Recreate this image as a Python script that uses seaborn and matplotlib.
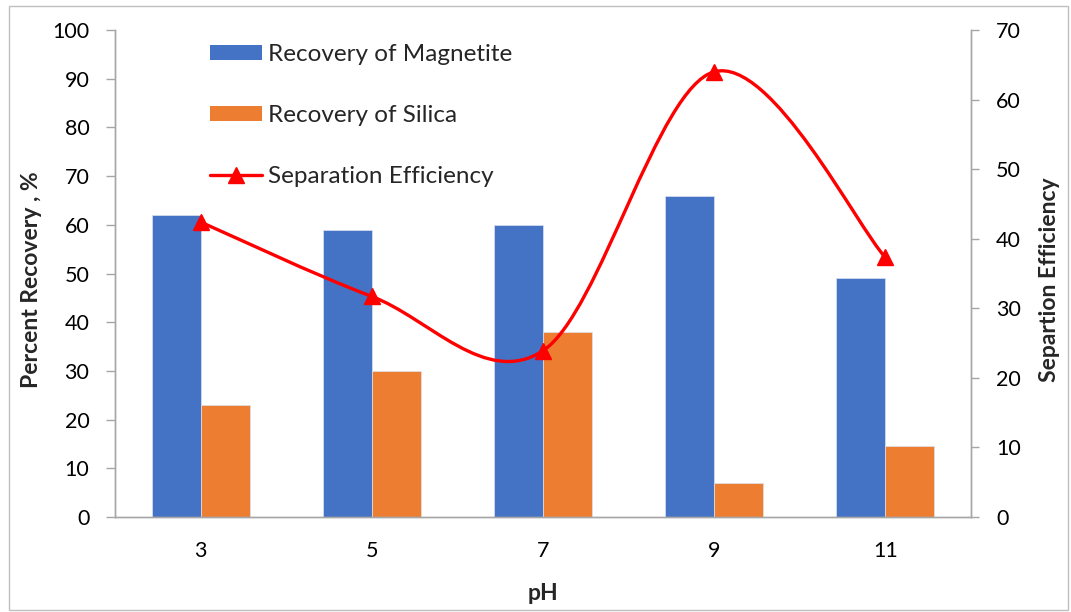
import numpy as np
import pandas as pd
import matplotlib
matplotlib.use('Agg')
import matplotlib.pyplot as plt
import seaborn as sns
from matplotlib.patches import Rectangle, PathPatch
from matplotlib.path import Path
from matplotlib.lines import Line2D

# ---- data ----
ph = ['3', '5', '7', '9', '11']
magnetite = [62, 59, 60, 66, 49]
silica = [23, 30, 38, 7, 14.5]
sep_eff = [42.4, 31.7, 23.9, 64.0, 37.3]

BLUE = '#4472C4'
ORANGE = '#ED7D31'
GREY = '#A6A6A6'

sns.set_theme(style='white')
plt.rcParams['font.family'] = ['Lato', 'DejaVu Sans']

df = pd.DataFrame({
    'pH': ph * 2,
    'Recovery': magnetite + silica,
    'Series': ['Recovery of Magnetite'] * len(ph) + ['Recovery of Silica'] * len(ph),
})

W, H = 1071, 612
fig = plt.figure(figsize=(W / 100, H / 100), dpi=100)
ax = fig.add_axes([115 / W, 1 - 517 / H, (971 - 115) / W, (517 - 30) / H])

sns.barplot(data=df, x='pH', y='Recovery', hue='Series',
            palette=[BLUE, ORANGE], saturation=1, width=0.573, gap=0, ax=ax,
            edgecolor='#DCE3F0', linewidth=0.5, legend=False, errorbar=None)

ax.set_xlim(-0.5, 4.5)
ax.set_ylim(0, 100)
ax.set_yticks(np.arange(0, 101, 10))

ax2 = ax.twinx()
ax2.set_ylim(0, 70)
ax2.set_yticks(np.arange(0, 71, 10))

# smoothed line (Excel-like cubic Bezier through the data points)
xs = np.arange(len(sep_eff), dtype=float)
ys = np.array(sep_eff, dtype=float)
verts = [(xs[0], ys[0])]
codes = [Path.MOVETO]
n = len(xs)
for i in range(n - 1):
    p0 = np.array([xs[max(i - 1, 0)], ys[max(i - 1, 0)]])
    p1 = np.array([xs[i], ys[i]])
    p2 = np.array([xs[i + 1], ys[i + 1]])
    p3 = np.array([xs[min(i + 2, n - 1)], ys[min(i + 2, n - 1)]])
    c1 = p1 + (p2 - p0) / 6.0
    c2 = p2 - (p3 - p1) / 6.0
    verts += [tuple(c1), tuple(c2), tuple(p2)]
    codes += [Path.CURVE4] * 3
ax2.add_patch(PathPatch(Path(verts, codes), facecolor='none', edgecolor='#FF0000',
                        lw=2.4, zorder=3, capstyle='round'))
ax2.plot(xs, ys, ls='none', marker='^', ms=11, color='#FF0000', zorder=4)

# spines and ticks
for a in (ax, ax2):
    a.spines['top'].set_visible(False)
    for s in ('left', 'right', 'bottom'):
        a.spines[s].set_color(GREY)
        a.spines[s].set_linewidth(1.0)
    a.grid(False)

TICK_FS = 15.5
ax.tick_params(axis='y', direction='out', length=6.5, width=1, color=GREY,
               pad=12, labelsize=TICK_FS, labelcolor='black', left=True)
ax.tick_params(axis='x', length=0, pad=17, labelsize=TICK_FS, labelcolor='black')
ax2.tick_params(axis='y', direction='out', length=6, width=1, color=GREY,
                pad=12, labelsize=TICK_FS, labelcolor='black', right=True)

LAB_FS = 16.5
ax.set_xlabel('pH', fontsize=LAB_FS, fontweight='bold')
ax.set_ylabel('Percent Recovery , %', fontsize=LAB_FS, fontweight='bold')
ax2.set_ylabel('Separtion Efficiency', fontsize=LAB_FS, fontweight='bold')
ax.xaxis.set_label_coords(0.5, (517 - 593) / 487)
ax.yaxis.set_label_coords((32 - 115) / 856, 0.487)
ax2.yaxis.set_label_coords((1050 - 115) / 856, 0.487)
ax.xaxis.label.set_va('center')
ax.yaxis.label.set_va('center')
ax2.yaxis.label.set_va('center')

handles = [
    Rectangle((0, 0), 1, 1, facecolor=BLUE, edgecolor='none'),
    Rectangle((0, 0), 1, 1, facecolor=ORANGE, edgecolor='none'),
    Line2D([], [], color='#FF0000', lw=2.4, marker='^', ms=11),
]
labels = ['Recovery of Magnetite', 'Recovery of Silica', 'Separation Efficiency']
LEG_FS = 17.5
leg = ax2.legend(handles, labels, loc='upper left',
                 bbox_to_anchor=(210 / W, 1 - 44 / H), bbox_transform=fig.transFigure,
                 frameon=False, fontsize=LEG_FS, handlelength=2.15, handleheight=0.62,
                 handletextpad=0.22, labelspacing=1.65, borderpad=0, borderaxespad=0)

# chart border
fig.patches.append(Rectangle((9 / W, 1 - 610 / H), (1068 - 9) / W, (610 - 6) / H,
                             transform=fig.transFigure, fill=False,
                             edgecolor='#BFBFBF', lw=1))

fig.savefig('out.png', dpi=100)
